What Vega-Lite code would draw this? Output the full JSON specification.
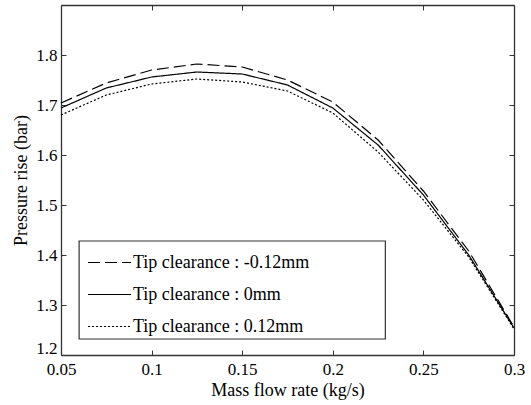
{
  "$schema": "https://vega.github.io/schema/vega-lite/v6.json",
  "width": 453,
  "height": 350,
  "autosize": "none",
  "padding": {"left": 61, "top": 5, "right": 17, "bottom": 50},
  "background": "white",
  "config": {
    "font": "Liberation Serif",
    "view": {"stroke": null},
    "axis": {
      "grid": false,
      "domainColor": "#333333",
      "domainWidth": 1.3,
      "tickColor": "#333333",
      "tickWidth": 1,
      "tickSize": -5,
      "labelColor": "#000000",
      "labelFont": "Liberation Serif",
      "labelFontSize": 17,
      "labelFlush": false,
      "titleFont": "Liberation Serif",
      "titleFontSize": 18,
      "titleFontWeight": "normal",
      "titleColor": "#000000"
    }
  },
  "data": {
    "values": [
      {"flow": 0.05, "rise": 1.704, "clearance": "Tip clearance : -0.12mm"},
      {"flow": 0.075, "rise": 1.744, "clearance": "Tip clearance : -0.12mm"},
      {"flow": 0.1, "rise": 1.770, "clearance": "Tip clearance : -0.12mm"},
      {"flow": 0.125, "rise": 1.782, "clearance": "Tip clearance : -0.12mm"},
      {"flow": 0.15, "rise": 1.776, "clearance": "Tip clearance : -0.12mm"},
      {"flow": 0.175, "rise": 1.750, "clearance": "Tip clearance : -0.12mm"},
      {"flow": 0.2, "rise": 1.706, "clearance": "Tip clearance : -0.12mm"},
      {"flow": 0.225, "rise": 1.630, "clearance": "Tip clearance : -0.12mm"},
      {"flow": 0.25, "rise": 1.528, "clearance": "Tip clearance : -0.12mm"},
      {"flow": 0.275, "rise": 1.408, "clearance": "Tip clearance : -0.12mm"},
      {"flow": 0.3, "rise": 1.256, "clearance": "Tip clearance : -0.12mm"},
      {"flow": 0.05, "rise": 1.694, "clearance": "Tip clearance : 0mm"},
      {"flow": 0.075, "rise": 1.734, "clearance": "Tip clearance : 0mm"},
      {"flow": 0.1, "rise": 1.756, "clearance": "Tip clearance : 0mm"},
      {"flow": 0.125, "rise": 1.766, "clearance": "Tip clearance : 0mm"},
      {"flow": 0.15, "rise": 1.762, "clearance": "Tip clearance : 0mm"},
      {"flow": 0.175, "rise": 1.740, "clearance": "Tip clearance : 0mm"},
      {"flow": 0.2, "rise": 1.694, "clearance": "Tip clearance : 0mm"},
      {"flow": 0.225, "rise": 1.620, "clearance": "Tip clearance : 0mm"},
      {"flow": 0.25, "rise": 1.520, "clearance": "Tip clearance : 0mm"},
      {"flow": 0.275, "rise": 1.400, "clearance": "Tip clearance : 0mm"},
      {"flow": 0.3, "rise": 1.254, "clearance": "Tip clearance : 0mm"},
      {"flow": 0.05, "rise": 1.680, "clearance": "Tip clearance : 0.12mm"},
      {"flow": 0.075, "rise": 1.720, "clearance": "Tip clearance : 0.12mm"},
      {"flow": 0.1, "rise": 1.742, "clearance": "Tip clearance : 0.12mm"},
      {"flow": 0.125, "rise": 1.752, "clearance": "Tip clearance : 0.12mm"},
      {"flow": 0.15, "rise": 1.746, "clearance": "Tip clearance : 0.12mm"},
      {"flow": 0.175, "rise": 1.728, "clearance": "Tip clearance : 0.12mm"},
      {"flow": 0.2, "rise": 1.684, "clearance": "Tip clearance : 0.12mm"},
      {"flow": 0.225, "rise": 1.606, "clearance": "Tip clearance : 0.12mm"},
      {"flow": 0.25, "rise": 1.510, "clearance": "Tip clearance : 0.12mm"},
      {"flow": 0.275, "rise": 1.396, "clearance": "Tip clearance : 0.12mm"},
      {"flow": 0.3, "rise": 1.252, "clearance": "Tip clearance : 0.12mm"}
    ]
  },
  "layer": [
    {
      "data": {"values": [{}]},
      "mark": {"type": "rect", "fill": "white", "stroke": "#333333", "strokeWidth": 1.2},
      "encoding": {
        "x": {"datum": 0.06, "type": "quantitative", "axis": null,
              "scale": {"domain": [0.05, 0.3], "nice": false, "zero": false, "padding": 0}},
        "x2": {"datum": 0.229},
        "y": {"datum": 1.428, "type": "quantitative", "axis": null,
              "scale": {"domain": [1.2, 1.9], "nice": false, "zero": false, "padding": 0}},
        "y2": {"datum": 1.232}
      }
    },
    {
      "mark": {"type": "line", "stroke": "#000000", "strokeWidth": 1.2},
      "encoding": {
        "x": {
          "field": "flow",
          "type": "quantitative",
          "scale": {"domain": [0.05, 0.3], "nice": false, "zero": false, "padding": 0},
          "axis": {
            "orient": "bottom",
            "title": "Mass flow rate (kg/s)",
            "values": [0.05, 0.1, 0.15, 0.2, 0.25, 0.3],
            "format": ".2~f",
            "labelPadding": 11,
            "titlePadding": 4
          }
        },
        "y": {
          "field": "rise",
          "type": "quantitative",
          "scale": {"domain": [1.2, 1.9], "nice": false, "zero": false, "padding": 0},
          "axis": {
            "orient": "left",
            "title": "Pressure rise (bar)",
            "values": [1.2, 1.3, 1.4, 1.5, 1.6, 1.7, 1.8],
            "format": ".1f",
            "labelPadding": 9,
            "labelFlush": true,
            "labelFlushOffset": 2,
            "titlePadding": 5
          }
        },
        "strokeDash": {
          "field": "clearance",
          "type": "nominal",
          "scale": {
            "domain": ["Tip clearance : -0.12mm", "Tip clearance : 0mm", "Tip clearance : 0.12mm"],
            "range": [[12, 5], [1, 0], [2, 2]]
          },
          "legend": {
            "title": null,
            "orient": "none",
            "legendX": 26,
            "legendY": 235,
            "padding": 0,
            "symbolType": "stroke",
            "symbolSize": 1849,
            "symbolStrokeWidth": 1.2,
            "symbolStrokeColor": "#000000",
            "labelFontSize": 18,
            "labelFont": "Liberation Serif",
            "labelColor": "#000000",
            "labelOffset": 1,
            "labelLimit": 400,
            "rowPadding": -6
          }
        }
      }
    },
    {
      "mark": {"type": "line", "opacity": 0},
      "encoding": {
        "x": {
          "field": "flow",
          "type": "quantitative",
          "scale": {"domain": [0.05, 0.3], "nice": false, "zero": false, "padding": 0},
          "axis": {
            "orient": "top",
            "title": null,
            "labels": false,
            "values": [0.05, 0.1, 0.15, 0.2, 0.25, 0.3]
          }
        },
        "y": {
          "field": "rise",
          "type": "quantitative",
          "scale": {"domain": [1.2, 1.9], "nice": false, "zero": false, "padding": 0},
          "axis": {
            "orient": "right",
            "title": null,
            "labels": false,
            "values": [1.2, 1.3, 1.4, 1.5, 1.6, 1.7, 1.8]
          }
        },
        "detail": {"field": "clearance", "type": "nominal"}
      }
    }
  ],
  "resolve": {"axis": {"x": "independent", "y": "independent"}}
}
